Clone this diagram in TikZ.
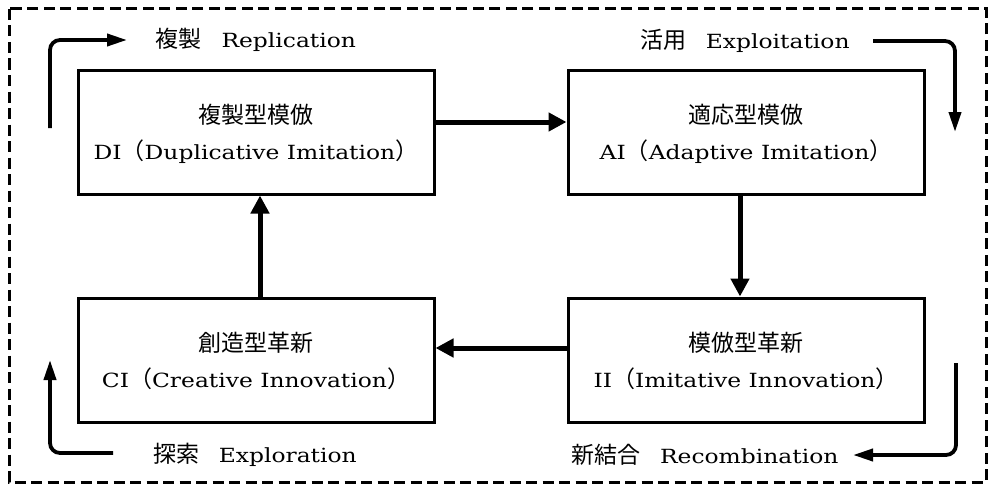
\documentclass[tikz,border=0pt]{standalone}
\usepackage{fontspec}
\setmainfont{DejaVu Serif}[FakeStretch=1.2]
\newfontfamily\cjk{Noto Sans CJK JP}[Scale=1.18]
\usetikzlibrary{arrows.meta, positioning}
\tikzstyle{block} = [rectangle, draw, line width=3pt, minimum width=356pt,
                 minimum height=124pt, align=center, text depth=0pt,
                 font=\fontsize{19.5}{36}\selectfont]
\tikzstyle{flow} = [line width=5pt, -{Triangle[length=18pt,width=18pt]}]
\tikzset{
	loopback/.style={line width=3.8pt, rounded corners=10pt,
		-{Triangle[length=20pt,width=12pt]}},
	phase/.style={font=\fontsize{19.5}{24}\selectfont, inner sep=0pt},
	dashframe/.style={line width=3pt, dash pattern=on 11pt off 5.5pt},
}

\begin{document}
\begin{tikzpicture}[x=1pt,y=-1pt]
\useasboundingbox (0,0) rectangle (995,487);

\draw [dashframe] (9,9) rectangle (986,482);

\node [block] at (256,132) (di) {{\cjk 複製型模倣}\\DI{\cjk （}Duplicative Imitation{\cjk ）}};
\node [block] at (746,132) (ai) {{\cjk 適応型模倣}\\AI{\cjk （}Adaptive Imitation{\cjk ）}};
\node [block] at (746,360) (ii) {{\cjk 模倣型革新}\\II{\cjk （}Imitative Innovation{\cjk ）}};
\node [block] at (256,360) (ci) {{\cjk 創造型革新}\\CI{\cjk （}Creative Innovation{\cjk ）}};

\path [flow, draw] ([yshift=10pt]di.east) -- ([yshift=10pt]ai.west);
\path [flow, draw] ([xshift=-6pt]ai.south) -- ([xshift=-6pt]ii.north);
\path [flow, draw] ([yshift=12pt]ii.west) -- ([yshift=12pt]ci.east);
\path [flow, draw] ([xshift=4pt]ci.north) -- ([xshift=4pt]di.south);

%phases
\node [phase] at (256,40) (rep) {{\cjk 複製}\quad Replication};
\node [phase] at (745,41) (exploit) {{\cjk 活用}\quad Exploitation};
\node [phase] at (705,455) (recomb) {{\cjk 新結合}\quad Recombination};
\node [phase] at (255,455) (explore) {{\cjk 探索}\quad Exploration};

\coordinate (rep a) at (50,128);
\coordinate (rep b) at (127,40);
\coordinate (exploit a) at (873,41);
\coordinate (exploit b) at (955,132);
\coordinate (recomb a) at (956,363);
\coordinate (recomb b) at (853,455);
\coordinate (explore a) at (113,453);
\coordinate (explore b) at (50,360);

\path [loopback, draw] (rep a) |- (rep b);
\path [loopback, draw] (exploit a) -| (exploit b);
\path [loopback, draw] (recomb a) |- (recomb b);
\path [loopback, draw] (explore a) -| (explore b);

\end{tikzpicture}
\end{document}
